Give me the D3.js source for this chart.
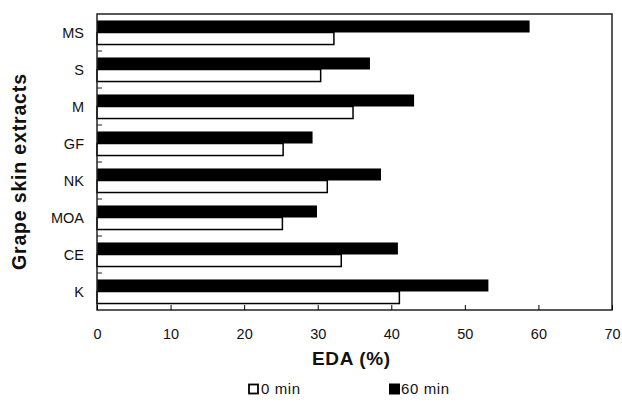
<!DOCTYPE html>
<html>
<head>
<meta charset="utf-8">
<title>EDA</title>
<script src="https://d3js.org/d3.v7.min.js"></script>
<style>
  body { margin: 0; background: #fff; }
  text { font-family: "Liberation Sans", Arial, sans-serif; fill: #111; }
</style>
</head>
<body>
<div id="chart"></div>
<script>
// data
let extracts = ["MS", "S", "M", "GF", "NK", "MOA", "CE", "K"];
let min0  = [32.2, 30.4, 34.8, 25.3, 31.3, 25.2, 33.2, 41.1];
let min60 = [58.8, 37.1, 43.1, 29.3, 38.6, 29.9, 40.9, 53.2];
let xTicks = [0, 10, 20, 30, 40, 50, 60, 70];

let margin = {top: 14, right: 10, bottom: 95, left: 97};
let w = 622 - margin.left - margin.right;
let h = 405 - margin.top - margin.bottom;

let svg = d3.select("#chart").append("svg")
    .attr("width", 622).attr("height", 405)
    .append("g")
    .attr("transform", "translate(" + margin.left + "," + margin.top + ")");

let x = d3.scaleLinear().domain([0, 70]).range([0, w]);
let y = d3.scaleBand().domain(extracts).range([0, h]).paddingInner(0.35).paddingOuter(0.175);

// bars: 60 min on top (black), 0 min below (white)
let half = y.bandwidth() / 2;
svg.selectAll(".b60").data(extracts).enter().append("rect")
    .attr("x", 0).attr("y", d => y(d))
    .attr("width", (d, i) => x(min60[i])).attr("height", half)
    .attr("fill", "#000");
svg.selectAll(".b0").data(extracts).enter().append("rect")
    .attr("x", 0).attr("y", d => y(d) + half)
    .attr("width", (d, i) => x(min0[i])).attr("height", half)
    .attr("fill", "#fff").attr("stroke", "#000").attr("stroke-width", 1.5);

// frame
svg.append("rect").attr("width", w).attr("height", h)
    .attr("fill", "none").attr("stroke", "#222").attr("stroke-width", 1.5);

// x axis, ticks pointing inward
let xAxis = d3.axisBottom(x).tickValues(xTicks).tickSizeInner(-5).tickSizeOuter(0).tickPadding(19);
let gx = svg.append("g").attr("transform", "translate(0," + h + ")").call(xAxis);
gx.select(".domain").remove();
gx.selectAll("text").attr("font-size", "14.5px").attr("font-family", "Liberation Sans, Arial, sans-serif")
    .attr("fill", "#111");

// y ticks at band boundaries
let step = h / extracts.length;
svg.selectAll(".yt").data(d3.range(1, extracts.length)).enter().append("line")
    .attr("x1", 0).attr("x2", 5)
    .attr("y1", d => d * step).attr("y2", d => d * step)
    .attr("stroke", "#222").attr("stroke-width", 1);

// category labels
svg.selectAll(".cl").data(extracts).enter().append("text")
    .attr("x", -13).attr("y", d => y(d) + y.bandwidth() / 2)
    .attr("dy", "0.35em").attr("text-anchor", "end")
    .attr("font-size", "14.5px").text(d => d);

// axis titles
svg.append("text")
    .attr("transform", "translate(" + (-71.5) + "," + (h / 2 + 10) + ") rotate(-90)")
    .attr("text-anchor", "middle").attr("font-weight", "bold").attr("font-size", "19.5px")
    .attr("textLength", 196)
    .text("Grape skin extracts");
svg.append("text")
    .attr("x", 254).attr("y", h + 55)
    .attr("text-anchor", "middle").attr("font-weight", "bold").attr("font-size", "19px")
    .attr("textLength", 78)
    .text("EDA (%)");

// legend
let leg = svg.append("g").attr("transform", "translate(0," + (h + 84) + ")");
leg.append("rect").attr("x", 152).attr("y", -9.5).attr("width", 9).attr("height", 9)
    .attr("fill", "#fff").attr("stroke", "#000").attr("stroke-width", 1.8);
leg.append("text").attr("x", 164).attr("y", 0).attr("font-size", "15px")
    .attr("letter-spacing", "0.6").text("0 min");
leg.append("rect").attr("x", 292).attr("y", -10.5).attr("width", 11).attr("height", 11)
    .attr("fill", "#000");
leg.append("text").attr("x", 304).attr("y", 0).attr("font-size", "15px")
    .attr("letter-spacing", "0.6").text("60 min");
</script>
</body>
</html>
